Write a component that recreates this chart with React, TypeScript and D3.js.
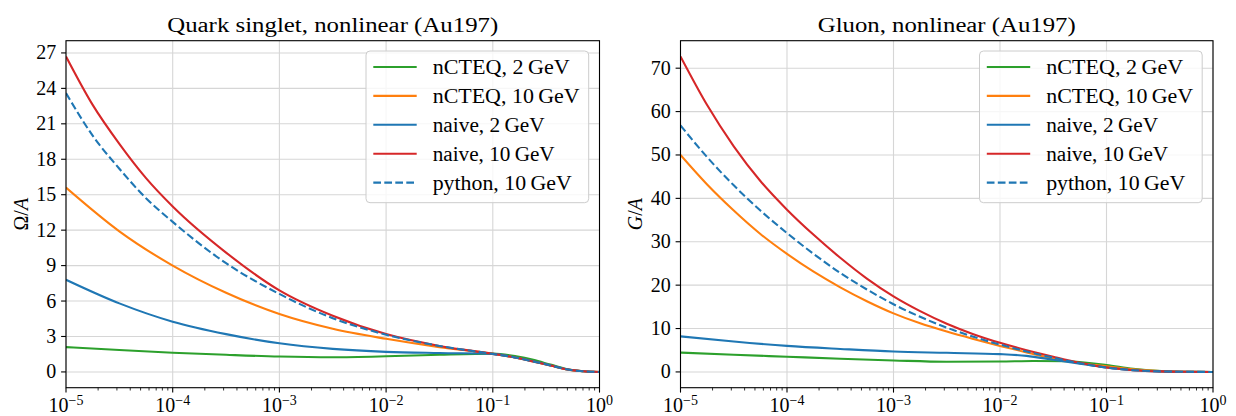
import React from 'react';
import * as d3 from 'd3';

// ---------- data ----------
const X_TICKS = [1e-5, 1e-4, 1e-3, 1e-2, 1e-1, 1];
const X_TICK_EXP = ['\u22125', '\u22124', '\u22123', '\u22122', '\u22121', '0'];
const QUARK_Y_TICKS = [0, 3, 6, 9, 12, 15, 18, 21, 24, 27];
const GLUON_Y_TICKS = [0, 10, 20, 30, 40, 50, 60, 70];

const SERIES_LABELS = [
  'nCTEQ, 2\u2009GeV',
  'nCTEQ, 10\u2009GeV',
  'naive, 2\u2009GeV',
  'naive, 10\u2009GeV',
  'python, 10\u2009GeV',
];
const SERIES_COLORS = ['#2ca02c', '#ff7f0e', '#1f77b4', '#d62728', '#1f77b4'];
const SERIES_DASHED = [false, false, false, false, true];
const LEGEND_TEXT_WIDTHS = [137, 147, 112, 122, 139];

// Quark singlet panel (log10 x, value)
const quarkNcteq2LogX = [-5, -4.5, -4, -3.5, -3, -2.5, -2, -1.5, -1, -0.78, -0.62, -0.46, -0.31, -0.15, 0];
const quarkNcteq2 = [2.1, 1.85, 1.63, 1.45, 1.3, 1.24, 1.32, 1.46, 1.55, 1.32, 1.02, 0.62, 0.25, 0.06, 0];
const quarkNcteq10LogX = [-5, -4.5, -4, -3.5, -3, -2.5, -2, -1.5, -1, -0.78, -0.62, -0.46, -0.31, -0.15, 0];
const quarkNcteq10 = [15.6, 11.9, 9.0, 6.7, 4.9, 3.65, 2.8, 2.1, 1.54, 1.2, 0.88, 0.54, 0.2, 0.05, 0];
const quarkNaive2LogX = [-5, -4.5, -4, -3.5, -3, -2.5, -2, -1.5, -1, -0.78, -0.62, -0.46, -0.31, -0.15, 0];
const quarkNaive2 = [7.8, 5.8, 4.25, 3.2, 2.42, 1.95, 1.7, 1.6, 1.53, 1.2, 0.9, 0.56, 0.22, 0.06, 0];
const quarkNaive10LogX = [-5, -4.75, -4.5, -4.25, -4, -3.5, -3, -2.5, -2, -1.5, -1, -0.78, -0.62, -0.46, -0.31, -0.15, 0];
const quarkNaive10 = [26.7, 22.6, 19.3, 16.4, 14.0, 10.1, 6.9, 4.75, 3.2, 2.2, 1.53, 1.2, 0.88, 0.55, 0.22, 0.05, 0];
const quarkPythonLogX = [-5, -4.75, -4.5, -4.25, -4, -3.5, -3, -2.5, -2, -1.5, -1, -0.78, -0.62, -0.46, -0.31, -0.15, 0];
const quarkPython = [23.6, 20.0, 17.2, 14.7, 12.7, 9.2, 6.6, 4.55, 3.15, 2.2, 1.52, 1.2, 0.88, 0.55, 0.22, 0.05, 0];

// Gluon panel (log10 x, value)
const gluonNcteq2LogX = [-5, -4.5, -4, -3.5, -3, -2.5, -2, -1.69, -1.37, -1, -0.75, -0.44, -0.2, 0];
const gluonNcteq2 = [4.45, 3.95, 3.5, 3.05, 2.65, 2.35, 2.4, 2.52, 2.45, 1.6, 0.7, 0.15, 0.03, 0];
const gluonNcteq10LogX = [-5, -4.75, -4.5, -4.25, -4, -3.75, -3.5, -3.25, -3, -2.75, -2.5, -2.25, -2, -1.75, -1.5, -1.25, -1, -0.75, -0.5, -0.25, 0];
const gluonNcteq10 = [50, 43.2, 37.2, 31.8, 27.2, 23.1, 19.5, 16.3, 13.5, 11.2, 9.3, 7.6, 6.0, 4.5, 3.1, 2.0, 1.3, 0.6, 0.18, 0.03, 0];
const gluonNaive2LogX = [-5, -4.5, -4, -3.5, -3, -2.5, -2, -1.75, -1.5, -1.25, -1, -0.75, -0.5, -0.25, 0];
const gluonNaive2 = [8.2, 7.0, 6.0, 5.3, 4.7, 4.4, 4.1, 3.7, 2.8, 1.9, 1.0, 0.4, 0.12, 0.03, 0];
const gluonNaive10LogX = [-5, -4.75, -4.5, -4.25, -4, -3.75, -3.5, -3.25, -3, -2.75, -2.5, -2.25, -2, -1.75, -1.5, -1.25, -1, -0.75, -0.5, -0.25, 0];
const gluonNaive10 = [72.7, 61.5, 52, 44, 37.4, 31.6, 26.3, 21.5, 17.4, 14.0, 11.1, 8.7, 6.7, 5.0, 3.5, 2.1, 1.0, 0.4, 0.12, 0.03, 0];
const gluonPythonLogX = [-5, -4.75, -4.5, -4.25, -4, -3.75, -3.5, -3.25, -3, -2.75, -2.5, -2.25, -2, -1.75, -1.5, -1.25, -1, -0.75, -0.5, -0.25, 0];
const gluonPython = [56.8, 49.5, 43, 37.2, 32, 27.2, 22.8, 19.0, 15.6, 12.7, 10.2, 8.1, 6.3, 4.7, 3.3, 2.0, 1.0, 0.4, 0.12, 0.03, 0];

const quarkSeries = [
  { lx: quarkNcteq2LogX, y: quarkNcteq2 },
  { lx: quarkNcteq10LogX, y: quarkNcteq10 },
  { lx: quarkNaive2LogX, y: quarkNaive2 },
  { lx: quarkNaive10LogX, y: quarkNaive10 },
  { lx: quarkPythonLogX, y: quarkPython },
];
const gluonSeries = [
  { lx: gluonNcteq2LogX, y: gluonNcteq2 },
  { lx: gluonNcteq10LogX, y: gluonNcteq10 },
  { lx: gluonNaive2LogX, y: gluonNaive2 },
  { lx: gluonNaive10LogX, y: gluonNaive10 },
  { lx: gluonPythonLogX, y: gluonPython },
];

// ---------- layout ----------
const W = 1236;
const H = 416;
const TOP = 40.7;
const BOTTOM = 387.7;
const FONT = "'Liberation Serif', 'DejaVu Serif', serif";
const FS = 20;
const LW = 2.08;
const DASH = '7.7,3.3';

type Series = { lx: number[]; y: number[] };

function Panel(props: {
  x0: number; x1: number; title: string; titleWidth: number;
  series: Series[]; yTicks: number[]; yLabel: React.ReactNode; yLabelX: number;
}) {
  const { x0, x1, title, titleWidth, series, yTicks, yLabel, yLabelX } = props;
  const xScale = d3.scaleLog().domain([1e-5, 1]).range([x0, x1]);
  const allY = series.flatMap((s) => s.y);
  const [mn, mx] = d3.extent(allY) as [number, number];
  const pad = (mx - mn) * 0.05;
  const yScale = d3.scaleLinear().domain([mn - pad, mx + pad]).range([BOTTOM, TOP]);

  const line = d3
    .line<[number, number]>()
    .x((d) => xScale(Math.pow(10, d[0])))
    .y((d) => yScale(d[1]))
    .curve(d3.curveMonotoneX);

  const minor: number[] = [];
  for (let k = -5; k < 0; k++) for (let m = 2; m <= 9; m++) minor.push(m * Math.pow(10, k));

  const legW = 222.7;
  const legX = x1 - 10.8 - legW;
  const legY = TOP + 10.3;
  const legH = 151.7;
  const clipId = 'clip' + Math.round(x0);

  return (
    <g>
      <defs>
        <clipPath id={clipId}>
          <rect x={x0} y={TOP} width={x1 - x0} height={BOTTOM - TOP} />
        </clipPath>
      </defs>
      {/* grid */}
      {X_TICKS.map((t, i) => (
        <line key={'gx' + i} x1={xScale(t)} x2={xScale(t)} y1={TOP} y2={BOTTOM} stroke="#d6d6d6" strokeWidth={1.1} />
      ))}
      {yTicks.map((t, i) => (
        <line key={'gy' + i} x1={x0} x2={x1} y1={yScale(t)} y2={yScale(t)} stroke="#d6d6d6" strokeWidth={1.1} />
      ))}
      {/* series */}
      <g clipPath={`url(#${clipId})`}>
        {series.map((s, i) => (
          <path
            key={'s' + i}
            d={line(s.lx.map((lx, j) => [lx, s.y[j]] as [number, number])) || ''}
            fill="none"
            stroke={SERIES_COLORS[i]}
            strokeWidth={LW}
            strokeDasharray={SERIES_DASHED[i] ? DASH : undefined}
          />
        ))}
      </g>
      {/* spines */}
      <rect x={x0} y={TOP} width={x1 - x0} height={BOTTOM - TOP} fill="none" stroke="#000" strokeWidth={1.1} />
      {/* x ticks */}
      {X_TICKS.map((t, i) => (
        <g key={'xt' + i}>
          <line x1={xScale(t)} x2={xScale(t)} y1={BOTTOM} y2={BOTTOM + 4.9} stroke="#000" strokeWidth={1.1} />
          <text x={xScale(t)} y={411.5} textAnchor="middle" fontFamily={FONT} fontSize={FS} fill="#000">
            10
            <tspan dy={-7} fontSize={14}>{X_TICK_EXP[i]}</tspan>
          </text>
        </g>
      ))}
      {minor.map((t, i) => (
        <line key={'mt' + i} x1={xScale(t)} x2={xScale(t)} y1={BOTTOM} y2={BOTTOM + 2.8} stroke="#000" strokeWidth={0.8} />
      ))}
      {/* y ticks */}
      {yTicks.map((t, i) => (
        <g key={'yt' + i}>
          <line x1={x0 - 4.9} x2={x0} y1={yScale(t)} y2={yScale(t)} stroke="#000" strokeWidth={1.1} />
          <text x={x0 - 9.8} y={yScale(t) + 6.5} textAnchor="end" fontFamily={FONT} fontSize={FS} fill="#000">
            {t}
          </text>
        </g>
      ))}
      {/* y label */}
      <text
        transform={`translate(${yLabelX},${(TOP + BOTTOM) / 2}) rotate(-90)`}
        textAnchor="middle"
        fontFamily={FONT}
        fontSize={FS}
        fill="#000"
      >
        {yLabel}
      </text>
      {/* title */}
      <text
        x={(x0 + x1) / 2}
        y={31.5}
        textAnchor="middle"
        fontFamily={FONT}
        fontSize={FS}
        fill="#000"
        textLength={titleWidth}
        lengthAdjust="spacingAndGlyphs"
      >
        {title}
      </text>
      {/* legend */}
      <rect x={legX} y={legY} width={legW} height={legH} rx={4} ry={4} fill="#fff" fillOpacity={0.8} stroke="#cccccc" strokeWidth={1} />
      {SERIES_LABELS.map((lab, i) => {
        const ry = legY + 16 + i * 28.9;
        return (
          <g key={'lg' + i}>
            <line
              x1={legX + 7.3}
              x2={legX + 50.7}
              y1={ry}
              y2={ry}
              stroke={SERIES_COLORS[i]}
              strokeWidth={LW}
              strokeDasharray={SERIES_DASHED[i] ? DASH : undefined}
            />
            <text
              x={legX + 66.7}
              y={ry + 7}
              fontFamily={FONT}
              fontSize={FS}
              fill="#000"
              textLength={LEGEND_TEXT_WIDTHS[i]}
              lengthAdjust="spacingAndGlyphs"
            >
              {lab}
            </text>
          </g>
        );
      })}
    </g>
  );
}

export default function App() {
  return (
    <div style={{ position: 'absolute', left: 0, top: 0, width: W, height: H, background: '#fff' }}>
      <svg width={W} height={H} viewBox={`0 0 ${W} ${H}`} style={{ display: 'block' }}>
        <rect x={0} y={0} width={W} height={H} fill="#fff" />
        <Panel
          x0={66}
          x1={599.5}
          title="Quark singlet, nonlinear (Au197)"
          titleWidth={331}
          series={quarkSeries}
          yTicks={QUARK_Y_TICKS}
          yLabelX={28}
          yLabel={
            <>
              <tspan>Ω/</tspan>
              <tspan fontStyle="italic">A</tspan>
            </>
          }
        />
        <Panel
          x0={680.5}
          x1={1213}
          title="Gluon, nonlinear (Au197)"
          titleWidth={258}
          series={gluonSeries}
          yTicks={GLUON_Y_TICKS}
          yLabelX={642}
          yLabel={
            <>
              <tspan fontStyle="italic">G</tspan>
              <tspan>/</tspan>
              <tspan fontStyle="italic">A</tspan>
            </>
          }
        />
      </svg>
    </div>
  );
}
